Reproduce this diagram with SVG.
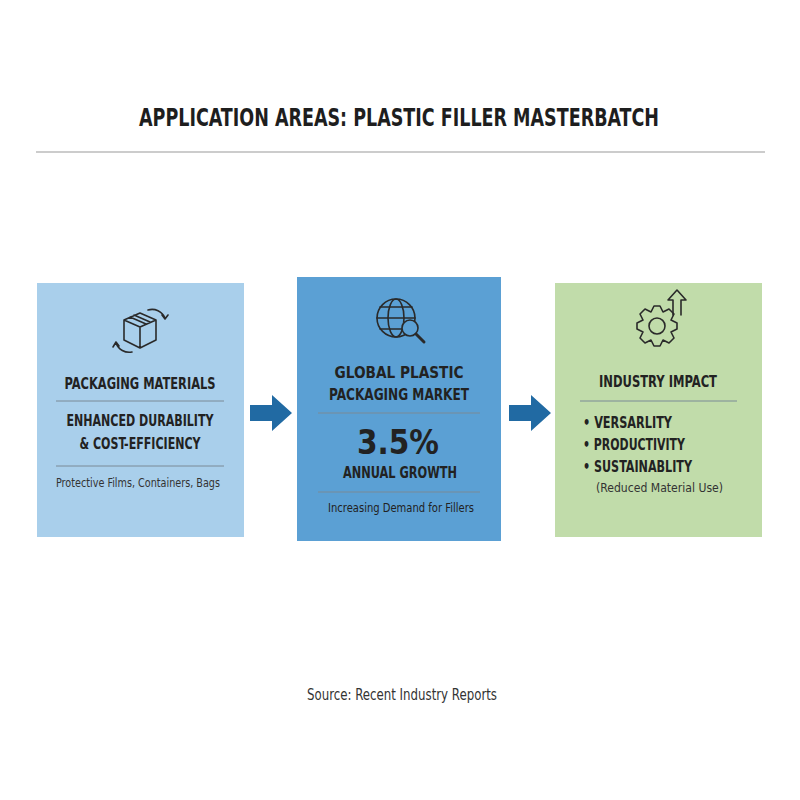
<svg xmlns="http://www.w3.org/2000/svg" width="800" height="800" viewBox="0 0 800 800">
<style>
text{font-family:"DejaVu Sans Condensed","Liberation Sans Narrow","Liberation Sans",sans-serif;fill:#222;text-anchor:middle}
.h{font-weight:bold;font-size:16px}
.s{font-size:12px;fill:#333}
.l{text-anchor:start}
.ic{fill:none;stroke:#2a2a2a;stroke-width:1.6;stroke-linecap:round;stroke-linejoin:round}
.sep{stroke:#7a8a96;stroke-width:1}
.ar{fill:#216aa3}
</style>
<rect width="800" height="800" fill="#fff"/>
<text x="399" y="126" style="font-size:24px;font-weight:bold;fill:#1e1e1e" textLength="520" lengthAdjust="spacingAndGlyphs">APPLICATION AREAS: PLASTIC FILLER MASTERBATCH</text>
<line x1="36" y1="152" x2="765" y2="152" stroke="#999" stroke-width="1.2"/>
<g id="connectors">
<polygon class="ar" points="250,405 272,405 272,395 292,413 272,431 272,421 250,421"/>
<polygon class="ar" points="509,405 531,405 531,395 551,413 531,431 531,421 509,421"/>
</g>
<g id="packaging">
<rect x="37" y="283" width="207" height="254" fill="#a9cfeb"/>
<g class="ic">
<path d="M124,320 L140,313 L156,320 L156,340 L140,348 L124,340 Z M124,320 L140,327 L156,320 M140,327 L140,348 M130,317 L146,324 M134,315 L150,322"/>
<path d="M148,310 A14,14 0 0 1 165,318 M162,315 L165,319 L168,315"/>
<path d="M132,352 A14,14 0 0 1 116,343 M119,346 L116,342 L113,347"/>
</g>
<text class="h" x="140" y="389" textLength="151" lengthAdjust="spacingAndGlyphs">PACKAGING MATERIALS</text>
<line class="sep" x1="56" y1="401" x2="224" y2="401"/>
<text class="h" x="140" y="426" textLength="147" lengthAdjust="spacingAndGlyphs">ENHANCED DURABILITY</text>
<text class="h" x="140" y="449" textLength="121" lengthAdjust="spacingAndGlyphs">&amp; COST-EFFICIENCY</text>
<line class="sep" x1="56" y1="466" x2="224" y2="466"/>
<text class="s" x="138" y="487" textLength="164" lengthAdjust="spacingAndGlyphs">Protective Films, Containers, Bags</text>
</g>
<g id="market">
<rect x="297" y="277" width="204" height="264" fill="#5ba0d4"/>
<g class="ic">
<circle cx="396" cy="318" r="19"/>
<ellipse cx="396" cy="318" rx="8" ry="19"/>
<line x1="377" y1="318" x2="415" y2="318"/>
<path d="M380,307 H412 M380,329 H405"/>
<circle cx="410" cy="328" r="8" fill="#5ba0d4"/>
<line x1="416" y1="334" x2="424" y2="342" stroke-width="3"/>
</g>
<text class="h" x="399" y="378" textLength="129" lengthAdjust="spacingAndGlyphs">GLOBAL PLASTIC</text>
<text class="h" x="399" y="400" textLength="140" lengthAdjust="spacingAndGlyphs">PACKAGING MARKET</text>
<line class="sep" x1="318" y1="413" x2="480" y2="413" stroke="#3d6f96"/>
<text x="398" y="454" style="font-size:34px;font-weight:bold" textLength="82" lengthAdjust="spacingAndGlyphs">3.5%</text>
<text class="h" x="400" y="478" textLength="114" lengthAdjust="spacingAndGlyphs">ANNUAL GROWTH</text>
<line class="sep" x1="318" y1="492" x2="480" y2="492" stroke="#3d6f96"/>
<text class="s" x="401" y="512" style="fill:#222" textLength="146" lengthAdjust="spacingAndGlyphs">Increasing Demand for Fillers</text>
</g>
<g id="impact">
<rect x="555" y="283" width="207" height="254" fill="#c1dcaa"/>
<g class="ic">
<path d="M651,312 l3,-6 h6 l3,6 l6,-3 l5,5 l-3,6 l6,3 v6 l-6,3 l3,6 l-5,5 l-6,-3 l-3,6 h-6 l-3,-6 l-6,3 l-5,-5 l3,-6 l-6,-3 v-6 l6,-3 l-3,-6 l5,-5 Z"/>
<circle cx="657" cy="326" r="8"/>
<path d="M673,315 V300 H668 L677,290 L686,300 H681 V315"/>
</g>
<text class="h" x="658" y="387" textLength="118" lengthAdjust="spacingAndGlyphs">INDUSTRY IMPACT</text>
<line class="sep" x1="580" y1="401" x2="737" y2="401"/>
<text class="h l" x="583" y="428" textLength="89" lengthAdjust="spacingAndGlyphs">• VERSARLITY</text>
<text class="h l" x="583" y="450" textLength="102" lengthAdjust="spacingAndGlyphs">• PRODUCTIVITY</text>
<text class="h l" x="583" y="472" textLength="109" lengthAdjust="spacingAndGlyphs">• SUSTAINABLITY</text>
<text class="s l" x="596" y="492" textLength="127" lengthAdjust="spacingAndGlyphs">(Reduced Material Use)</text>
</g>
<text x="402" y="700" style="font-size:15px;fill:#333" textLength="190" lengthAdjust="spacingAndGlyphs">Source: Recent Industry Reports</text>
</svg>
